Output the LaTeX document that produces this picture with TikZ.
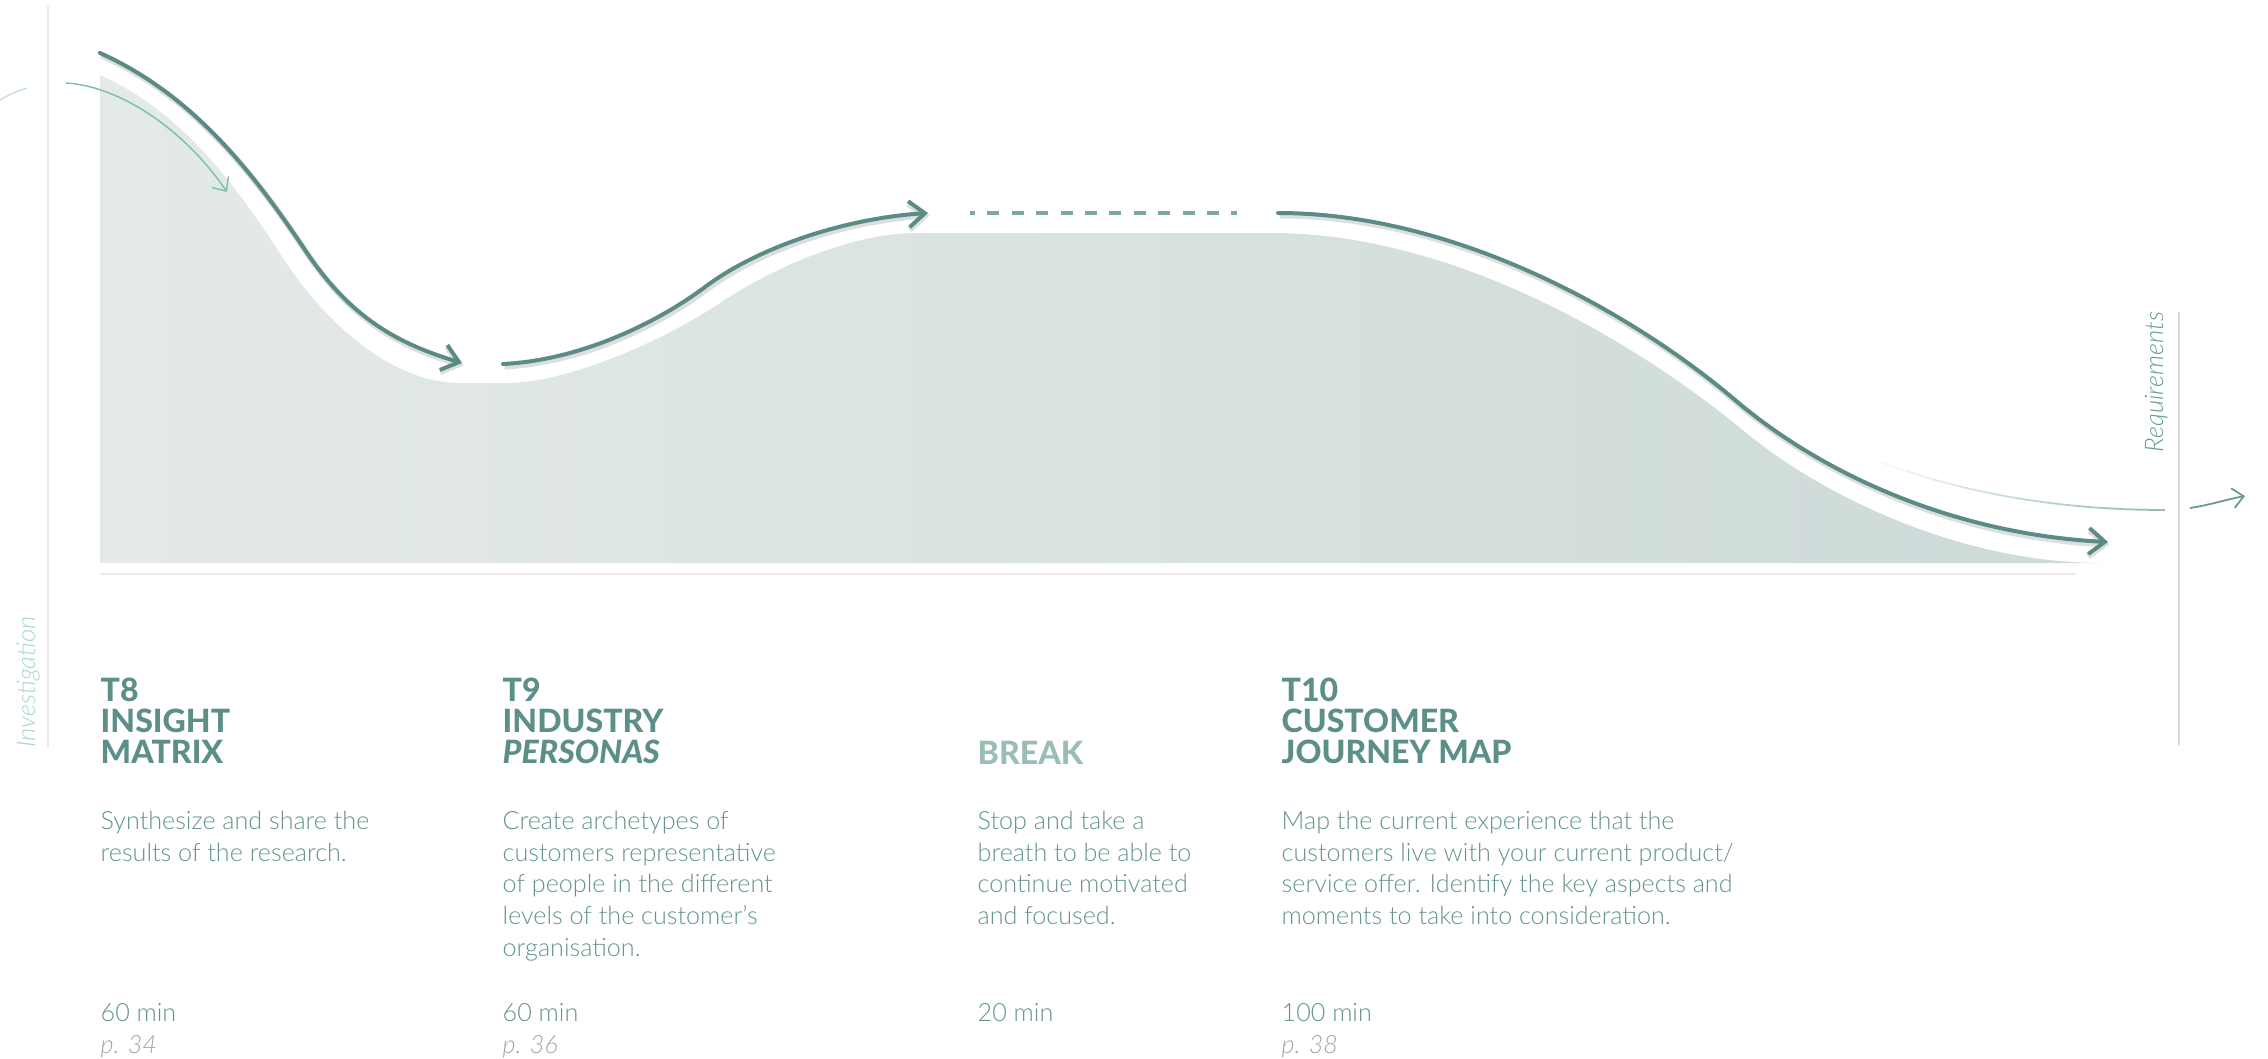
\documentclass[tikz,border=0pt]{standalone}
\usepackage{fontspec}
\IfFontExistsTF{Lato Heavy}{\def\hvy{Heavy}}{\def\hvy{Bold}}
\IfFontExistsTF{Lato Light}{%
  \setmainfont{Lato Light}[BoldFont=Lato \hvy, ItalicFont=Lato Light Italic, BoldItalicFont=Lato \hvy\space Italic]}{%
  \setmainfont{Liberation Sans}}
\usetikzlibrary{arrows.meta}
\definecolor{headc}{RGB}{92,143,136}
\definecolor{bodyc}{RGB}{98,148,141}
\definecolor{breakc}{RGB}{155,189,183}
\definecolor{pagec}{RGB}{165,165,165}
\definecolor{arrowc}{RGB}{90,140,133}
\definecolor{dashc}{RGB}{125,168,162}
\definecolor{mintc}{RGB}{125,195,165}
\definecolor{invc}{RGB}{168,216,196}
\definecolor{reqc}{RGB}{105,155,150}
\definecolor{areaL}{RGB}{228,234,233}
\definecolor{areaR}{RGB}{205,218,216}
\definecolor{rulec}{RGB}{234,234,234}
\definecolor{vrulec}{RGB}{214,220,220}
\definecolor{faintc}{RGB}{140,180,178}
\newcommand\headfont{\fontsize{9.13}{8.96}\selectfont\bfseries\lineskiplimit=-20pt}
\newcommand\bodyfont{\fontsize{7.15}{9.1}\selectfont\lineskiplimit=-20pt}
\newcommand\labfont{\fontsize{7.3}{8}\selectfont\itshape}
\begin{document}
\begin{tikzpicture}[x=0.1mm,y=-0.1mm,
  mainarrow/.style={draw=arrowc, line width=0.4mm, line cap=round,
    -{Straight Barb[length=1.6mm,width=2.6mm]},
    preaction={draw=black, draw opacity=0.13, line width=0.6mm,
      transform canvas={shift={(0.15mm,-0.25mm)}}}},
  hd/.style={anchor=base west, inner sep=0pt, text=headc, font=\headfont},
  bd/.style={anchor=base west, inner sep=0pt, text=bodyc, font=\bodyfont},
  pg/.style={anchor=base west, inner sep=0pt, text=pagec, font=\bodyfont\itshape},
  lab/.style={anchor=base west, inner sep=0pt, rotate=90, font=\labfont}]
\useasboundingbox (0,0) rectangle (2268,1058);

% axis lines
\draw[rulec, line width=0.2mm] (48,6) -- (48,748);
\draw[vrulec, line width=0.2mm] (2179,312) -- (2179,745);
\draw[rulec, line width=0.2mm] (100,574) -- (2076,574);

% area
\shade[left color=areaL, right color=areaR]
  (100,563) -- (100,75)
  .. controls (180,111) and (233,180.5) .. (283,258)
  .. controls (323,320) and (390,383) .. (460,383)
  -- (505,383)
  .. controls (575,383) and (675,333.4) .. (720,303)
  .. controls (765,272.6) and (847,233) .. (917,233)
  -- (1272,233)
  .. controls (1452,233) and (1635,340.7) .. (1745,432)
  .. controls (1815,490) and (1953,563) .. (2103,563)
  -- cycle;

% faint arcs
\draw[invc!70, line width=0.15mm] (0,100) .. controls (10,94) .. (27,88);
\foreach \i in {0,...,9}{
  \pgfmathsetmacro\pc{10+9*\i}
  \draw[faintc!\pc!white, line width=0.18mm]
    plot[domain=\i/10:(\i+1)/10, samples=6, variable=\t]
    ({(1-\t)^2*1880+2*\t*(1-\t)*2010+\t^2*2165},
     {(1-\t)^2*462+2*\t*(1-\t)*510+\t^2*510});
}

% small arrows
\coordinate (gs) at (66,83);
\coordinate (ge) at (227,192);
\draw[mintc, line width=0.15mm, -{Straight Barb[length=1.1mm,width=2mm]}]
  (gs) .. controls (120,86) and (185,130) .. (ge);
\coordinate (rs) at (2190,508);
\coordinate (re) at (2245,496);
\draw[reqc, line width=0.18mm, -{Straight Barb[length=1.1mm,width=2mm]}]
  (rs) .. controls (2210,505) and (2228,499) .. (re);

% main arrows
\coordinate (a1s) at (100,53);
\coordinate (a1e) at (462,363);
\draw[mainarrow] (a1s)
  .. controls (190,93.5) and (250,167.5) .. (305,250)
  .. controls (350,317.5) and (397,343.5) .. (a1e);
\coordinate (a2s) at (503,364);
\coordinate (a2e) at (928,213);
\draw[mainarrow] (a2s)
  .. controls (583,360) and (660,320.75) .. (705,287)
  .. controls (760,245.75) and (848,218) .. (a2e);
\coordinate (ds) at (970,213);
\coordinate (de) at (1237,213);
\draw[dashc, line width=0.35mm, dash pattern=on 1.2mm off 1.24mm, dash phase=0.7mm] (ds) -- (de);
\coordinate (a3s) at (1278,213);
\coordinate (a3e) at (2108,542);
\draw[mainarrow] (a3s)
  .. controls (1458,213) and (1635,315) .. (1735,400)
  .. controls (1825,476.5) and (1958,534.5) .. (a3e);

% side labels
\node[lab, text=invc] (inv) at (35,748) {Investigation};
\node[lab, text=reqc] (req) at (2163,453) {Requirements};

% column 1
\node[hd] (t8) at (100,701) {\vtop{\hbox{T8}\hbox{INSIGHT}\hbox{MATRIX}}};
\node[bd] (d8) at (100,829) {\vtop{\hbox{Synthesize and share the}\hbox{results of the research.}}};
\node[bd] (m8) at (100,1021) {60 min};
\node[pg] (p8) at (100,1053) {p. 34};

% column 2
\node[hd] (t9) at (502,701) {\vtop{\hbox{T9}\hbox{INDUSTRY}\hbox{\textit{PERSONAS}}}};
\node[bd] (d9) at (502,829) {\vtop{\hbox{Create archetypes of}\hbox{customers representative}\hbox{of people in the different}\hbox{levels of the customer’s}\hbox{organisation.}}};
\node[bd] (m9) at (502,1021) {60 min};
\node[pg] (p9) at (502,1053) {p. 36};

% column 3
\node[hd, text=breakc] (br) at (977,764) {BREAK};
\node[bd] (dbr) at (977,829) {\vtop{\hbox{Stop and take a}\hbox{breath to be able to}\hbox{continue motivated}\hbox{and focused.}}};
\node[bd] (mbr) at (977,1021) {20 min};

% column 4
\node[hd] (t10) at (1281,701) {\vtop{\hbox{T10}\hbox{CUSTOMER}\hbox{JOURNEY MAP}}};
\node[bd] (d10) at (1281,829) {\vtop{\hbox{Map the current experience that the}\hbox{customers live with your current product/}\hbox{service offer. Identify the key aspects and}\hbox{moments to take into consideration.}}};
\node[bd] (m10) at (1281,1021) {100 min};
\node[pg] (p10) at (1281,1053) {p. 38};
\end{tikzpicture}
\end{document}
